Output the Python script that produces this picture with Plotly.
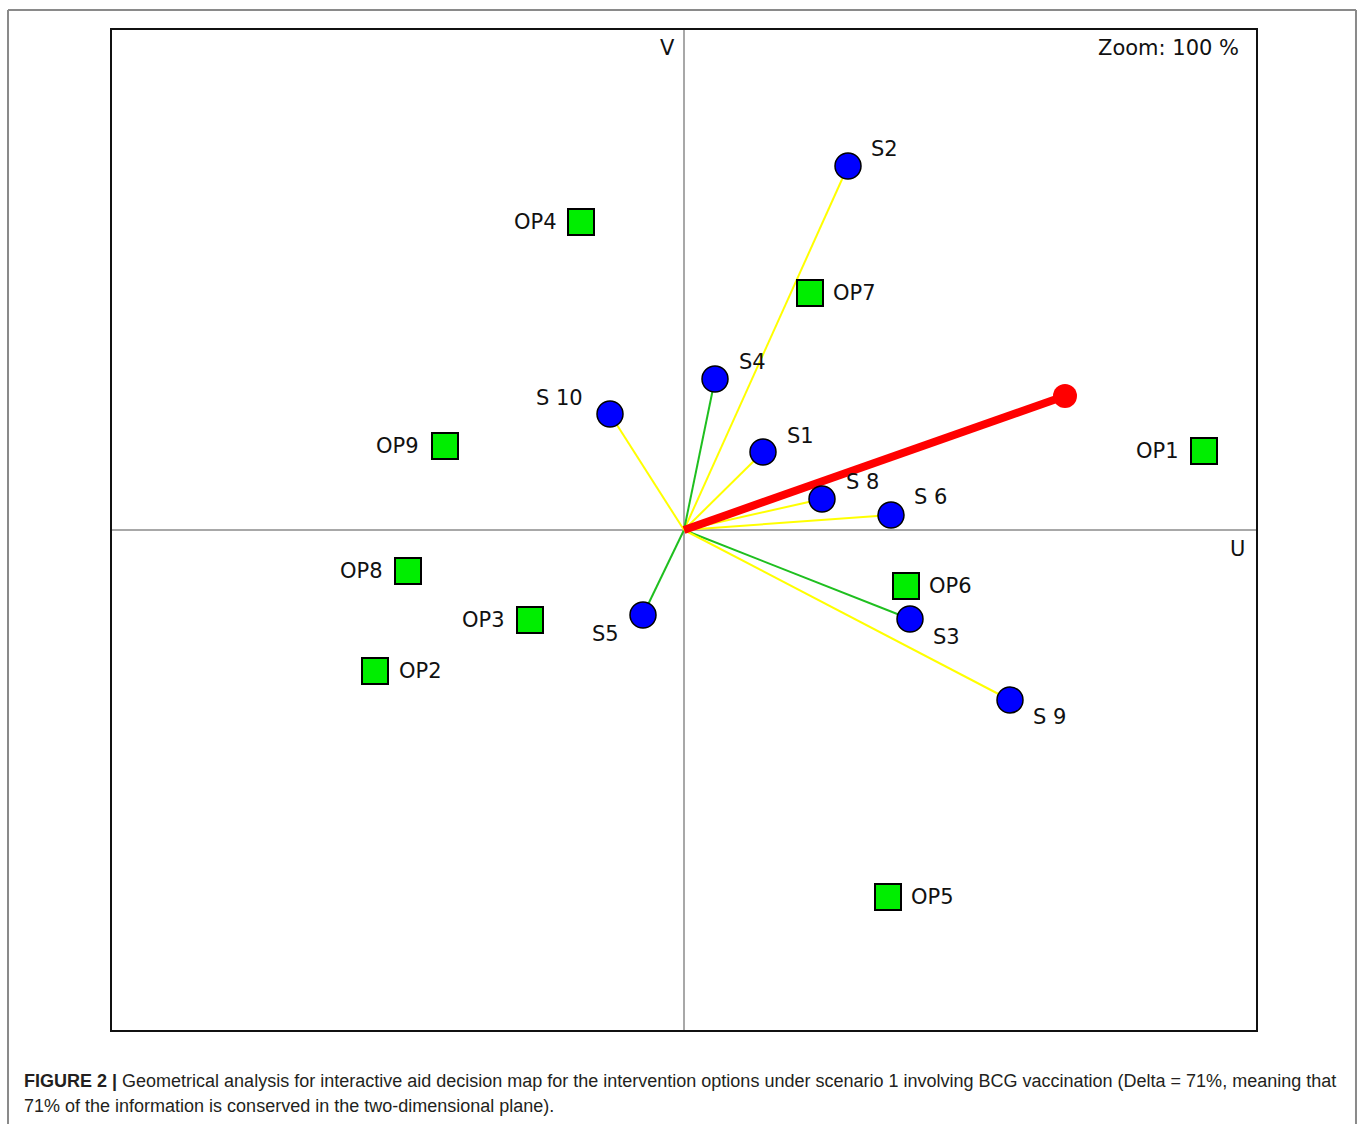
import plotly.graph_objects as go

# ---- data (axis units of the map) ----
s_names = ["S1", "S2", "S3", "S4", "S5", "S 6", "S 8", "S 9", "S 10"]
s_u = [0.79, 1.64, 2.26, 0.31, -0.41, 2.07, 1.38, 3.26, -0.74]
s_v = [0.78, 3.64, -0.89, 1.51, -0.85, 0.15, 0.31, -1.70, 1.16]
s_link = ["yellow", "yellow", "green", "green", "green", "yellow", "yellow", "yellow", "yellow"]

op_names = ["OP1", "OP2", "OP3", "OP4", "OP5", "OP6", "OP7", "OP8", "OP9"]
op_u = [5.20, -3.09, -1.54, -1.03, 2.04, 2.22, 1.26, -2.76, -2.39]
op_v = [0.79, -1.41, -0.90, 3.08, -3.67, -0.56, 2.37, -0.41, 0.84]

axis_u = [0.0, 3.81]
axis_v = [0.0, 1.34]

# ---- styles ----
LINE_COL = {"yellow": "#ffff00", "green": "#1fbf1f"}
LABEL_FONT = dict(family="DejaVu Sans, Verdana, sans-serif", size=21, color="#111111")

# label offsets (px): (anchor, xshift, yshift)
s_off = {
    "S1": ("left", 22, 16), "S2": ("left", 21, 17), "S3": ("left", 21, -18),
    "S4": ("left", 22, 17), "S5": ("right", -22, -19), "S 6": ("left", 21, 18),
    "S 8": ("left", 22, 17), "S 9": ("left", 21, -17), "S 10": ("right", -25, 16),
}
op_off = {
    "OP1": ("right", -23, 0), "OP2": ("left", 22, 0), "OP3": ("right", -23, 0),
    "OP4": ("right", -22, 0), "OP5": ("left", 21, 0), "OP6": ("left", 21, 0),
    "OP7": ("left", 21, 0), "OP8": ("right", -23, 0), "OP9": ("right", -24, 0),
}

fig = go.Figure()

# links from origin to each scenario
for name, u, v, c in zip(s_names, s_u, s_v, s_link):
    fig.add_trace(go.Scatter(x=[0, u], y=[0, v], mode="lines",
                             line=dict(color=LINE_COL[c], width=2),
                             hoverinfo="skip", showlegend=False))

# decision axis (red)
fig.add_trace(go.Scatter(x=axis_u, y=axis_v, mode="lines",
                         line=dict(color="#ff0000", width=8),
                         hoverinfo="skip", showlegend=False))
fig.add_trace(go.Scatter(x=axis_u[1:], y=axis_v[1:], mode="markers",
                         marker=dict(color="#ff0000", size=24, symbol="circle"),
                         hoverinfo="skip", showlegend=False))

# options (green squares)
fig.add_trace(go.Scatter(x=op_u, y=op_v, mode="markers", text=op_names,
                         marker=dict(color="#00ee00", size=26, symbol="square",
                                     line=dict(color="#000000", width=2)),
                         showlegend=False))

# scenarios (blue circles)
fig.add_trace(go.Scatter(x=s_u, y=s_v, mode="markers", text=s_names,
                         marker=dict(color="#0000ff", size=26, symbol="circle",
                                     line=dict(color="#000000", width=1.5)),
                         showlegend=False))

annotations = []
for name, u, v in zip(s_names, s_u, s_v):
    a, xs, ys = s_off[name]
    annotations.append(dict(x=u, y=v, xref="x", yref="y", text=name, showarrow=False,
                            xanchor=a, yanchor="middle", xshift=xs, yshift=ys, font=LABEL_FONT))
for name, u, v in zip(op_names, op_u, op_v):
    a, xs, ys = op_off[name]
    annotations.append(dict(x=u, y=v, xref="x", yref="y", text=name, showarrow=False,
                            xanchor=a, yanchor="middle", xshift=xs, yshift=ys, font=LABEL_FONT))

# axis names & zoom text
annotations.append(dict(x=0, y=1, xref="x", yref="paper", text="V", showarrow=False,
                        xanchor="right", yanchor="middle", xshift=-7, yshift=-18, font=LABEL_FONT))
annotations.append(dict(x=1, y=0, xref="paper", yref="y", text="U", showarrow=False,
                        xanchor="right", yanchor="middle", xshift=-9, yshift=-19, font=LABEL_FONT))
annotations.append(dict(x=1, y=1, xref="paper", yref="paper", text="Zoom: 100 %", showarrow=False,
                        xanchor="right", yanchor="middle", xshift=-15, yshift=-18, font=LABEL_FONT))

# caption
CAP_FONT = dict(family="Liberation Sans, Arial, Helvetica, sans-serif",
                size=18, color="#231f20")
annotations.append(dict(x=-0.0787, y=-0.051, xref="paper", yref="paper", showarrow=False,
                        xanchor="left", yanchor="middle", font=CAP_FONT,
                        text="<b>FIGURE 2 |</b> Geometrical analysis for interactive aid decision map for the "
                             "intervention options under scenario 1 involving BCG vaccination (Delta = 71%, meaning that"))
annotations.append(dict(x=-0.0787, y=-0.076, xref="paper", yref="paper", showarrow=False,
                        xanchor="left", yanchor="middle", font=CAP_FONT,
                        text="71% of the information is conserved in the two-dimensional plane)."))

# outer frame (top, left, right)
frame = dict(color="#8a8a8a", width=2)
shapes = [
    dict(type="line", xref="paper", yref="paper", x0=-0.0909, x1=1.0874, y0=1.02, y1=1.02, line=frame),
    dict(type="line", xref="paper", yref="paper", x0=-0.0909, x1=-0.0909, y0=1.02, y1=-0.2, line=frame),
    dict(type="line", xref="paper", yref="paper", x0=1.0874, x1=1.0874, y0=1.02, y1=-0.2, line=frame),
]

fig.update_layout(
    width=1360, height=1124,
    margin=dict(l=112, r=104, t=30, b=94),
    paper_bgcolor="white", plot_bgcolor="white",
    annotations=annotations, shapes=shapes,
    xaxis=dict(range=[-5.72, 5.72], showgrid=False, showticklabels=False, ticks="",
               zeroline=True, zerolinecolor="#a8a8a8", zerolinewidth=2,
               showline=True, mirror=True, linecolor="#111111", linewidth=2),
    yaxis=dict(range=[-5, 5], showgrid=False, showticklabels=False, ticks="",
               zeroline=True, zerolinecolor="#a8a8a8", zerolinewidth=2,
               showline=True, mirror=True, linecolor="#111111", linewidth=2),
)

fig.write_html("out.html", config={"displayModeBar": False},
               post_script="document.body.style.margin='0';document.body.style.overflow='hidden';")
